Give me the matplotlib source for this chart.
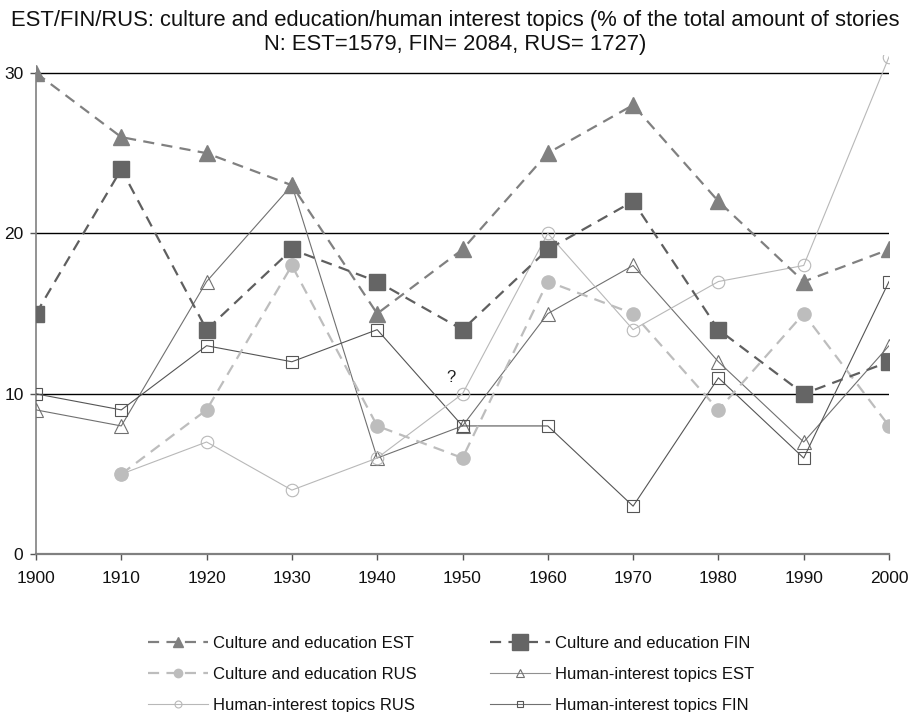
import matplotlib
matplotlib.use("Agg")
import matplotlib.pyplot as plt
import numpy as np

plt.rcParams['font.family'] = ['Liberation Sans', 'DejaVu Sans']

years = [1900, 1910, 1920, 1930, 1940, 1950, 1960, 1970, 1980, 1990, 2000]
culture_est = [30, 26, 25, 23, 15, 19, 25, 28, 22, 17, 19]
culture_fin = [15, 24, 14, 19, 17, 14, 19, 22, 14, 10, 12]
culture_rus = [np.nan, 5, 9, 18, 8, 6, 17, 15, 9, 15, 8]
human_est = [9, 8, 17, 23, 6, 8, 15, 18, 12, 7, 13]
human_rus = [np.nan, 5, 7, 4, 6, 10, 20, 14, 17, 18, 31]
human_fin = [10, 9, 13, 12, 14, 8, 8, 3, 11, 6, 17]
yticks = [0, 10, 20, 30]
title = ("EST/FIN/RUS: culture and education/human interest topics (% of the total amount of stories\n"
         "N: EST=1579, FIN= 2084, RUS= 1727)")

W, H = 910, 712
fig = plt.figure(figsize=(W / 100, H / 100), dpi=100)
ax = fig.add_axes([36 / W, 1 - 554.3 / H, (889 - 36) / W, (554.3 - 54.5) / H])

dash = (0, (5, 3.3))
l_hest, = ax.plot(years, human_est, color='#707070', lw=0.8, marker='^', ms=10,
                  mfc='none', mec='#707070', mew=0.8, label='Human-interest topics EST', zorder=3)
l_hfin, = ax.plot(years, human_fin, color='#555555', lw=0.8, marker='s', ms=8,
                  mfc='none', mec='#555555', mew=0.8, label='Human-interest topics FIN', zorder=3)
l_hrus, = ax.plot(years, human_rus, color='#b8b8b8', lw=0.8, marker='o', ms=9,
                  mfc='none', mec='#b8b8b8', mew=0.8, label='Human-interest topics RUS', zorder=3)
l_crus, = ax.plot(years, culture_rus, color='#bdbdbd', lw=1.6, ls=dash, marker='o', ms=9.5,
                  mfc='#bdbdbd', mec='#bdbdbd', label='Culture and education RUS', zorder=4)
l_cest, = ax.plot(years, culture_est, color='#808080', lw=1.6, ls=dash, marker='^', ms=12,
                  mfc='#808080', mec='#808080', label='Culture and education EST', zorder=4)
l_cfin, = ax.plot(years, culture_fin, color='#5f5f5f', lw=1.6, ls=dash, marker='s', ms=12,
                  mfc='#656565', mec='#656565', label='Culture and education FIN', zorder=4)

ax.text(1948.6, 11.0, '?', ha='center', va='center', fontsize=12, color='#222222')

ax.set_xlim(1900, 2000)
ax.set_ylim(0, 31.15)
ax.set_xticks(years)
ax.set_yticks(yticks)
ax.yaxis.grid(True, color='black', lw=1.0)
ax.set_axisbelow(True)
for s in ['top', 'right']:
    ax.spines[s].set_visible(False)
ax.spines['left'].set_bounds(0, 30)
ax.spines['left'].set_color('#808080')
ax.spines['left'].set_linewidth(1.2)
ax.spines['bottom'].set_color('#808080')
ax.spines['bottom'].set_linewidth(1.6)
ax.tick_params(axis='x', direction='out', length=4, width=1, color='#555555',
               labelsize=12.5, pad=8, labelcolor='#111111')
ax.tick_params(axis='y', direction='out', length=4, width=1, color='#555555',
               labelsize=12.5, pad=5, labelcolor='#111111')

fig.text(0.5, 1 - 10 / H, title, ha='center', va='top', fontsize=15.8, linespacing=1.2, color='#111111')

handles = [l_cest, l_crus, l_hrus, l_cfin, l_hest, l_hfin]
leg = fig.legend(handles, [h.get_label() for h in handles], ncol=2, loc='upper left',
                 bbox_to_anchor=(148 / W, 1 - 636 / H), frameon=False, fontsize=12,
                 handlelength=3.6, handletextpad=0.3, columnspacing=4.4,
                 labelspacing=0.95, borderpad=0, borderaxespad=0, numpoints=1)
legend_ms = [7, 6, 5, 11, 6, 5]
for h, ms in zip(leg.legend_handles, legend_ms):
    h.set_markersize(ms)
leg.legend_handles[4].set_color('#909090')
leg.legend_handles[5].set_color('#707070')
for t in leg.get_texts():
    t.set_color('#111111')

fig.savefig('out.png', dpi=100)
